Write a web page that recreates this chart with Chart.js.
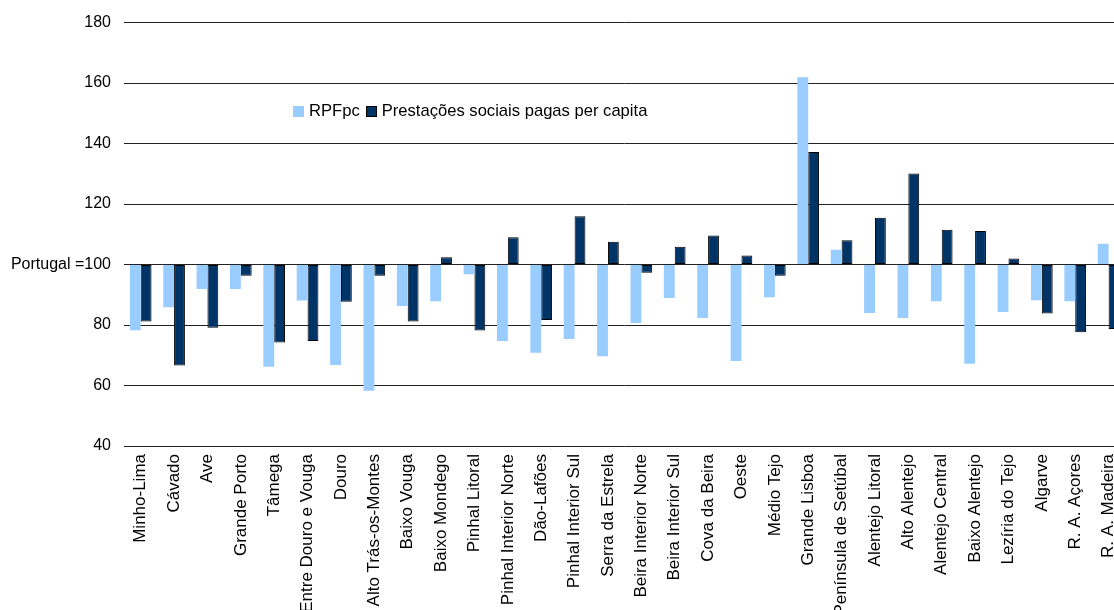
<!DOCTYPE html>
<html>
<head>
<meta charset="utf-8">
<script src="https://cdn.jsdelivr.net/npm/chart.js@4"></script>
<style>
  body { margin: 0; overflow: hidden; background: #fff; font-family: "Liberation Sans", Arial, sans-serif; }
  #wrap { position: relative; width: 1114px; height: 610px; overflow: hidden; }
  #legend { position: absolute; left: 293px; top: 101px; font-size: 16.6px; color: #000; white-space: nowrap; }
  #legend span.box { display: inline-block; width: 11px; height: 11px; vertical-align: -1px; }
  #legend span.lbl { margin: 0 6px 0 5px; }
</style>
</head>
<body>
<div id="wrap">
  <canvas id="chart" width="1137" height="610"></canvas>
  <div id="legend"></div>
</div>
<script>
const regioes = ['Minho-Lima', 'Cávado', 'Ave', 'Grande Porto', 'Tâmega', 'Entre Douro e Vouga', 'Douro',
  'Alto Trás-os-Montes', 'Baixo Vouga', 'Baixo Mondego', 'Pinhal Litoral', 'Pinhal Interior Norte', 'Dão-Lafões',
  'Pinhal Interior Sul', 'Serra da Estrela', 'Beira Interior Norte', 'Beira Interior Sul', 'Cova da Beira', 'Oeste',
  'Médio Tejo', 'Grande Lisboa', 'Península de Setúbal', 'Alentejo Litoral', 'Alto Alentejo', 'Alentejo Central',
  'Baixo Alentejo', 'Lezíria do Tejo', 'Algarve', 'R. A. Açores', 'R. A. Madeira'];

// indice, Portugal = 100
const rpfpc = [78.3, 85.9, 91.9, 91.9, 66.2, 88.1, 66.8, 58.3, 86.3, 87.9, 96.8, 74.7, 70.8, 75.4, 69.7,
  80.7, 88.9, 82.3, 68.1, 89.2, 161.9, 104.9, 84.0, 82.3, 87.9, 67.2, 84.3, 88.2, 87.9, 106.9];
const prestacoes = [81.2, 66.6, 79.1, 96.3, 74.2, 74.7, 87.7, 96.3, 81.2, 102.4, 78.2, 109.0, 81.7, 116.0, 107.5,
  97.3, 105.9, 109.6, 103.0, 96.3, 137.2, 108.0, 115.5, 130.1, 111.5, 111.1, 102.0, 83.8, 77.6, 78.7];

const serieNomes = ['RPFpc', 'Prestações sociais pagas per capita'];
const cores = ['#99CCFF', '#003366'];

const fonte = "'Liberation Sans', Arial, sans-serif";

// legenda dentro da area do grafico
let leg = '';
serieNomes.forEach(function(n, i){
  const borda = i === 1 ? 'border:1px solid #000;width:9px;height:9px;' : '';
  leg += '<span class="box" style="background:' + cores[i] + ';' + borda + '"></span><span class="lbl">' + n + '</span>';
});
document.getElementById('legend').innerHTML = leg;

const ctx = document.getElementById('chart').getContext('2d');
new Chart(ctx, {
  type: 'bar',
  data: {
    labels: regioes,
    datasets: [{
      label: serieNomes[0],
      data: rpfpc,
      base: 100,
      backgroundColor: cores[0],
      borderWidth: 0
    }, {
      label: serieNomes[1],
      data: prestacoes,
      base: 100,
      backgroundColor: cores[1],
      borderColor: '#000',
      borderWidth: 1,
      borderSkipped: false
    }]
  },
  options: {
    responsive: false,
    animation: false,
    layout: { padding: { top: 13, right: 0, left: 0, bottom: 0 } },
    datasets: { bar: { categoryPercentage: 0.65, barPercentage: 1.0 } },
    plugins: { legend: { display: false }, tooltip: { enabled: false } },
    scales: {
      x: {
        grid: { display: false, drawTicks: false },
        border: { display: false },
        ticks: {
          autoSkip: false, minRotation: 90, maxRotation: 90, padding: 8,
          color: '#000', font: { family: fonte, size: 17 }
        },
        afterFit: function(s){ s.height = 164; }
      },
      y: {
        min: 40, max: 180,
        grid: { color: '#222', lineWidth: 1, drawTicks: false },
        border: { display: false },
        ticks: {
          stepSize: 20, padding: 13, color: '#000', font: { family: fonte, size: 16 },
          callback: function(v){ return v === 100 ? 'Portugal =100' : v; }
        },
        afterFit: function(s){ s.width = 124; }
      }
    }
  }
});
</script>
</body>
</html>
